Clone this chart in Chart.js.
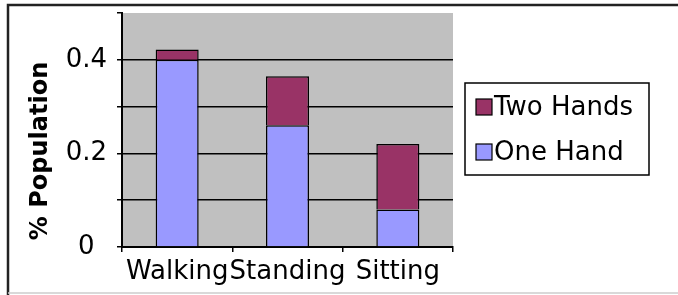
<!DOCTYPE html>
<html>
<head>
<meta charset="utf-8">
<script src="https://cdn.jsdelivr.net/npm/chart.js@4/dist/chart.umd.min.js"></script>
<style>
  html, body { margin: 0; padding: 0; background: #fff; }
  canvas { display: block; }
</style>
</head>
<body>
<canvas id="chart" width="678" height="295"></canvas>
<script>
// ======= DATA =======
const categories = ["Walking", "Standing", "Sitting"];
const oneHand = [0.40, 0.26, 0.08];    // lower part of each bar
const twoHands = [0.022, 0.105, 0.14]; // stacked on top
const yLabelValues = [0, 0.2, 0.4];    // only these ticks get a label
const yTitle = "% Population";

const FONT = '"DejaVu Sans", Verdana, sans-serif';

// ======= PLUGIN: outer frame, grey plot area, y title, legend =======
const decor = {
  id: "decor",
  beforeDraw(chart) {
    const ctx = chart.ctx;
    const a = chart.chartArea;
    ctx.save();
    // grey plot background
    ctx.fillStyle = "#c0c0c0";
    ctx.fillRect(a.left, a.top, a.right - a.left, a.bottom - a.top);
    // outer frame (top + left dark, bottom light)
    ctx.strokeStyle = "#222";
    ctx.lineWidth = 2.5;
    ctx.beginPath();
    ctx.moveTo(8, 295);
    ctx.lineTo(8, 5);
    ctx.lineTo(678, 5);
    ctx.stroke();
    ctx.strokeStyle = "#ccc";
    ctx.lineWidth = 1.5;
    ctx.beginPath();
    ctx.moveTo(8, 293);
    ctx.lineTo(678, 293);
    ctx.stroke();
    ctx.restore();
  },
  afterDraw(chart) {
    const ctx = chart.ctx;
    ctx.save();
    // rotated y axis title
    ctx.translate(41, 151);
    ctx.rotate(-Math.PI / 2);
    ctx.font = "bold 24px " + FONT;
    ctx.fillStyle = "#000";
    ctx.textAlign = "center";
    ctx.textBaseline = "middle";
    ctx.fillText(yTitle, 0, 0);
    ctx.restore();

    // legend: framed box on the right, top series first
    ctx.save();
    ctx.fillStyle = "#fff";
    ctx.fillRect(465, 83, 184, 92);
    ctx.strokeStyle = "#000";
    ctx.lineWidth = 1.5;
    ctx.strokeRect(465, 83, 184, 92);
    ctx.font = "26px " + FONT;
    ctx.textBaseline = "middle";
    const ds = chart.data.datasets.slice().reverse();
    ds.forEach((d, i) => {
      const cy = 107 + i * 45;
      ctx.fillStyle = d.backgroundColor;
      ctx.fillRect(476, cy - 8, 16, 16);
      ctx.lineWidth = 1.2;
      ctx.strokeStyle = "#000";
      ctx.strokeRect(476, cy - 8, 16, 16);
      ctx.fillStyle = "#000";
      ctx.fillText(d.label, 494, cy + 1);
    });
    ctx.restore();
  }
};

new Chart(document.getElementById("chart"), {
  type: "bar",
  data: {
    labels: categories,
    datasets: [
      { label: "One Hand", data: oneHand, backgroundColor: "#9999ff", borderColor: "#000", borderWidth: 1.5 },
      { label: "Two Hands", data: twoHands, backgroundColor: "#993366", borderColor: "#000", borderWidth: 1.5 }
    ]
  },
  options: {
    responsive: false,
    animation: false,
    layout: { padding: { left: 8, top: 13, bottom: 6, right: 225 } },
    datasets: { bar: { categoryPercentage: 1, barPercentage: 0.39 } },
    plugins: {
      legend: { display: false },
      tooltip: { enabled: false }
    },
    scales: {
      x: {
        stacked: true,
        afterFit: s => { s.height = 42; s.paddingLeft = 0; s.paddingRight = 0; },
        grid: { offset: true, drawOnChartArea: false, color: "#000", tickLength: 5, lineWidth: 1.5 },
        border: { color: "#000", width: 2 },
        ticks: { font: { family: FONT, size: 26 }, color: "#000", padding: 5, maxRotation: 0, autoSkip: false }
      },
      y: {
        stacked: true,
        min: 0,
        max: 0.5,
        afterFit: s => { s.width = 114; s.paddingTop = 0; s.paddingBottom = 0; },
        grid: {
          color: c => (c.tick && c.tick.value >= 0.5 - 1e-9) ? "rgba(0,0,0,0)" : "#000",
          tickColor: "#000",
          tickLength: 5,
          lineWidth: 1.5
        },
        border: { color: "#000", width: 2 },
        ticks: {
          stepSize: 0.1,
          crossAlign: "center",
          padding: 10,
          font: { family: FONT, size: 26 },
          color: "#000",
          callback: v => yLabelValues.some(l => Math.abs(l - v) < 1e-9) ? String(Math.round(v * 10) / 10) : ""
        }
      }
    }
  },
  plugins: [decor]
});
</script>
</body>
</html>
